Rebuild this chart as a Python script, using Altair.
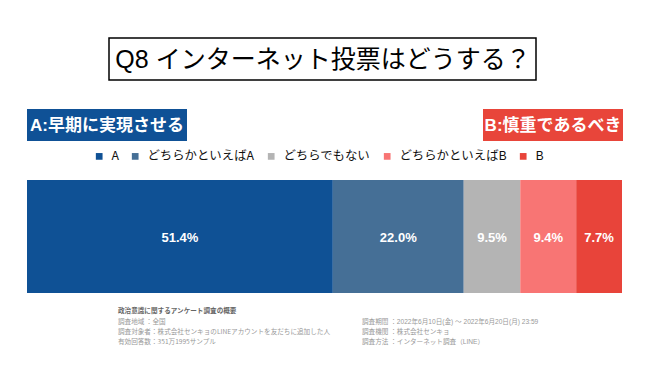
import altair as alt
import pandas as pd

categories = ["A", "どちらかといえばA", "どちらでもない", "どちらかといえばB", "B"]
values = [51.4, 22.0, 9.5, 9.4, 7.7]
colors = ["#0f5195", "#456f96", "#b4b4b4", "#f87574", "#e8443a"]
order = [1, 2, 3, 4, 5]

title_text = "Q8 インターネット投票はどうする？"
a_label = "A:早期に実現させる"
b_label = "B:慎重であるべき"
note_left = [
    "政治意識に関するアンケート調査の概要",
    "調査地域 ：全国",
    "調査対象者：株式会社センキョのLINEアカウントを友だちに追加した人",
    "有効回答数：351万1995サンプル",
]
note_right = [
    "調査期間 ：2022年6月10日(金) ～ 2022年6月20日(月) 23:59",
    "調査機関 ：株式会社センキョ",
    "調査方法 ：インターネット調査（LINE）",
]

FONT = "Liberation Sans, Noto Sans CJK JP"
CJK = "Noto Sans CJK JP"

df = pd.DataFrame({"cat": categories, "value": values, "ord": order})

xscale = alt.Scale(domain=[0, 100], range=[19, 614], nice=False, zero=True)
color = alt.Color(
    "cat:N",
    scale=alt.Scale(domain=categories, range=colors),
    legend=alt.Legend(
        orient="none",
        legendX=85,
        legendY=142,
        direction="horizontal",
        title=None,
        symbolType="square",
        symbolSize=45,
        symbolStrokeWidth=0,
        symbolOpacity=1,
        labelFontSize=12.4,
        labelFont=CJK,
        labelColor="#111111",
        labelOffset=6,
        columnPadding=10,
    ),
)

base = alt.Chart(df).transform_window(
    cum="sum(value)", sort=[alt.SortField("ord")], frame=[None, 0]
).transform_calculate(
    start="datum.cum - datum.value",
    mid="datum.cum - datum.value / 2",
    lab="format(datum.value, '.1f') + '%'",
)

bars = base.mark_bar(opacity=1).encode(
    x=alt.X("start:Q", scale=xscale, axis=None),
    x2="cum:Q",
    y=alt.value(172),
    y2=alt.value(285),
    color=color,
)

labels = base.mark_text(
    color="white", fontSize=13, fontWeight="bold", font=FONT, baseline="middle"
).encode(
    x=alt.X("mid:Q", scale=xscale, axis=None),
    y=alt.value(230),
    text="lab:N",
)

one = pd.DataFrame({"t": [0]})

title_box = alt.Chart(one).mark_rect(fill="white", stroke="black", strokeWidth=1.5).encode(
    x=alt.value(101), x2=alt.value(528), y=alt.value(30), y2=alt.value(72)
)
title = alt.Chart(one).mark_text(
    fontSize=25, font=FONT, color="black", baseline="middle", align="center"
).encode(x=alt.value(315), y=alt.value(52), text=alt.value(title_text))

a_box = alt.Chart(one).mark_rect(fill="#0f5196").encode(
    x=alt.value(19), x2=alt.value(179), y=alt.value(101), y2=alt.value(133)
)
a_txt = alt.Chart(one).mark_text(
    fontSize=17, font=FONT, fontWeight="bold", color="white", baseline="middle", align="center"
).encode(x=alt.value(99), y=alt.value(117.5), text=alt.value(a_label))

b_box = alt.Chart(one).mark_rect(fill="#e8453a").encode(
    x=alt.value(475), x2=alt.value(615), y=alt.value(101), y2=alt.value(133)
)
b_txt = alt.Chart(one).mark_text(
    fontSize=17, font=FONT, fontWeight="bold", color="white", baseline="middle", align="center"
).encode(x=alt.value(545), y=alt.value(117.5), text=alt.value(b_label))

notes = []
ly = [303, 314, 324, 334]
for i, t in enumerate(note_left):
    notes.append(
        alt.Chart(one).mark_text(
            fontSize=6.6, font=CJK, color="#666666" if i == 0 else "#999999",
            fontWeight="bold" if i == 0 else "normal",
            align="left", baseline="middle",
        ).encode(x=alt.value(110), y=alt.value(ly[i]), text=alt.value(t))
    )
for i, t in enumerate(note_right):
    notes.append(
        alt.Chart(one).mark_text(
            fontSize=6.6, font=FONT, color="#999999", align="left", baseline="middle",
        ).encode(x=alt.value(354), y=alt.value(ly[i + 1]), text=alt.value(t))
    )

chart = alt.layer(
    bars, labels, title_box, title, a_box, a_txt, b_box, b_txt, *notes
).properties(
    width=634, height=350, padding=0, autosize=alt.AutoSizeParams(type="none"),
    background="white",
).configure_view(stroke=None)

chart.save("out.html", embed_options={"renderer": "svg", "actions": False})
